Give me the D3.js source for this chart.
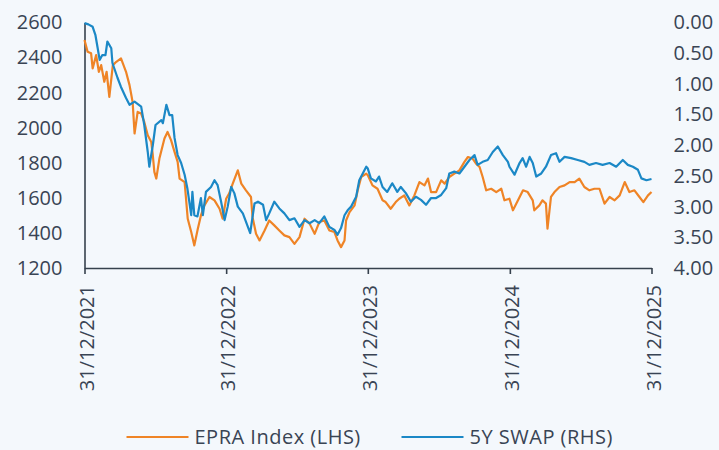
<!DOCTYPE html>
<html>
<head>
<meta charset="utf-8">
<script src="https://cdn.jsdelivr.net/npm/d3@7"></script>
<style>
  html, body { margin: 0; padding: 0; background: #f4f8fc; }
  svg { display: block; font-family: "Open Sans", "Noto Sans", sans-serif; }
</style>
</head>
<body>
<div id="chart"></div>
<script>
// EPRA Index (left axis)
const epra = [
  ["2021-12-31", 2500], ["2022-01-08", 2433], ["2022-01-17", 2424], ["2022-01-21", 2338],
  ["2022-01-30", 2414], ["2022-02-06", 2319], ["2022-02-12", 2357], ["2022-02-20", 2262],
  ["2022-02-26", 2319], ["2022-03-05", 2176], ["2022-03-14", 2357], ["2022-03-23", 2376],
  ["2022-04-04", 2395], ["2022-04-17", 2319], ["2022-04-26", 2243], ["2022-05-04", 2147],
  ["2022-05-09", 1967], ["2022-05-17", 2090], ["2022-05-26", 2081], ["2022-06-03", 2033],
  ["2022-06-12", 1957], ["2022-06-21", 1919], ["2022-06-25", 1843], ["2022-06-29", 1748],
  ["2022-07-04", 1710], ["2022-07-12", 1824], ["2022-07-25", 1938], ["2022-08-02", 1976],
  ["2022-08-11", 1929], ["2022-08-20", 1862], ["2022-08-28", 1805], ["2022-09-02", 1710],
  ["2022-09-15", 1690], ["2022-09-23", 1481], ["2022-10-02", 1405], ["2022-10-10", 1329],
  ["2022-10-19", 1424], ["2022-10-27", 1500], ["2022-11-05", 1557], ["2022-11-18", 1605],
  ["2022-12-01", 1586], ["2022-12-14", 1538], ["2022-12-22", 1481], ["2022-12-31", 1595],
  ["2023-01-08", 1626], ["2023-01-17", 1681], ["2023-01-30", 1757], ["2023-02-08", 1681],
  ["2023-02-20", 1643], ["2023-03-05", 1605], ["2023-03-09", 1490], ["2023-03-18", 1395],
  ["2023-03-27", 1357], ["2023-04-09", 1414], ["2023-04-21", 1471], ["2023-05-04", 1443],
  ["2023-05-17", 1414], ["2023-05-30", 1386], ["2023-06-12", 1376], ["2023-06-25", 1338],
  ["2023-07-08", 1376], ["2023-07-21", 1481], ["2023-08-03", 1453], ["2023-08-16", 1395],
  ["2023-08-28", 1462], ["2023-09-10", 1471], ["2023-09-23", 1414], ["2023-10-06", 1405],
  ["2023-10-14", 1357], ["2023-10-23", 1319], ["2023-11-01", 1357], ["2023-11-05", 1471],
  ["2023-11-14", 1519], ["2023-11-27", 1557], ["2023-12-05", 1643], ["2023-12-14", 1719],
  ["2023-12-27", 1738], ["2023-12-31", 1729], ["2024-01-12", 1671], ["2024-01-25", 1652],
  ["2024-02-07", 1586], ["2024-02-15", 1576], ["2024-02-28", 1538], ["2024-03-12", 1576],
  ["2024-03-21", 1595], ["2024-04-03", 1614], ["2024-04-16", 1557], ["2024-04-29", 1614],
  ["2024-05-12", 1690], ["2024-05-25", 1671], ["2024-06-03", 1710], ["2024-06-11", 1633],
  ["2024-06-24", 1633], ["2024-07-07", 1700], ["2024-07-16", 1681], ["2024-07-28", 1719],
  ["2024-08-10", 1738], ["2024-08-23", 1757], ["2024-09-05", 1805], ["2024-09-14", 1833],
  ["2024-09-26", 1824], ["2024-10-05", 1795], ["2024-10-14", 1776], ["2024-10-22", 1719],
  ["2024-10-31", 1643], ["2024-11-13", 1652], ["2024-11-26", 1633], ["2024-12-09", 1652],
  ["2024-12-17", 1586], ["2024-12-30", 1595], ["2025-01-08", 1529], ["2025-01-21", 1586],
  ["2025-02-03", 1643], ["2025-02-15", 1633], ["2025-02-28", 1586], ["2025-03-04", 1529],
  ["2025-03-17", 1557], ["2025-03-25", 1586], ["2025-04-03", 1567], ["2025-04-07", 1424],
  ["2025-04-16", 1605], ["2025-04-25", 1633], ["2025-05-08", 1662], ["2025-05-21", 1671],
  ["2025-06-03", 1690], ["2025-06-16", 1690], ["2025-06-28", 1710], ["2025-07-11", 1662],
  ["2025-07-24", 1643], ["2025-08-06", 1652], ["2025-08-19", 1652], ["2025-09-01", 1567],
  ["2025-09-14", 1605], ["2025-09-27", 1586], ["2025-10-10", 1614], ["2025-10-23", 1690],
  ["2025-11-04", 1633], ["2025-11-17", 1643], ["2025-11-30", 1605], ["2025-12-10", 1576],
  ["2025-12-22", 1614], ["2025-12-31", 1633]
];

// 5Y swap rate (right axis, inverted)
const swap = [
  ["2021-12-31", 0.01], ["2022-01-10", 0.03], ["2022-01-21", 0.07], ["2022-01-28", 0.20],
  ["2022-02-03", 0.42], ["2022-02-08", 0.61], ["2022-02-15", 0.53], ["2022-02-23", 0.53],
  ["2022-02-28", 0.31], ["2022-03-10", 0.42], ["2022-03-13", 0.66], ["2022-03-26", 0.90],
  ["2022-04-04", 1.05], ["2022-04-17", 1.23], ["2022-04-26", 1.34], ["2022-05-09", 1.29],
  ["2022-05-26", 1.37], ["2022-06-03", 1.67], ["2022-06-12", 2.11], ["2022-06-16", 2.35],
  ["2022-06-25", 2.00], ["2022-07-02", 1.67], ["2022-07-17", 1.59], ["2022-07-21", 1.64],
  ["2022-07-30", 1.34], ["2022-08-07", 1.51], ["2022-08-14", 1.51], ["2022-08-20", 1.88],
  ["2022-08-28", 2.16], ["2022-09-06", 2.29], ["2022-09-15", 2.48], ["2022-09-22", 2.70],
  ["2022-10-02", 3.14], ["2022-10-05", 2.76], ["2022-10-10", 3.14], ["2022-10-18", 3.16],
  ["2022-10-27", 2.86], ["2022-11-01", 3.14], ["2022-11-09", 2.76], ["2022-11-22", 2.68],
  ["2022-12-01", 2.57], ["2022-12-09", 2.65], ["2022-12-18", 2.92], ["2022-12-27", 3.22],
  ["2023-01-04", 3.00], ["2023-01-13", 2.68], ["2023-01-21", 2.78], ["2023-01-30", 3.00],
  ["2023-02-12", 3.11], ["2023-02-25", 3.33], ["2023-03-03", 3.43], ["2023-03-14", 2.95],
  ["2023-03-23", 2.92], ["2023-04-05", 2.97], ["2023-04-13", 3.22], ["2023-04-21", 3.11],
  ["2023-05-04", 2.92], ["2023-05-17", 3.03], ["2023-05-30", 3.11], ["2023-06-12", 3.22],
  ["2023-06-25", 3.19], ["2023-07-08", 3.33], ["2023-07-21", 3.22], ["2023-08-03", 3.27],
  ["2023-08-16", 3.22], ["2023-08-28", 3.27], ["2023-09-10", 3.16], ["2023-09-23", 3.33],
  ["2023-10-06", 3.38], ["2023-10-14", 3.46], ["2023-10-23", 3.35], ["2023-11-01", 3.14],
  ["2023-11-09", 3.06], ["2023-11-18", 3.00], ["2023-12-01", 2.84], ["2023-12-09", 2.57],
  ["2023-12-18", 2.46], ["2023-12-27", 2.35], ["2023-12-31", 2.38], ["2024-01-08", 2.54],
  ["2024-01-21", 2.59], ["2024-01-29", 2.51], ["2024-02-07", 2.68], ["2024-02-19", 2.76],
  ["2024-03-03", 2.62], ["2024-03-16", 2.76], ["2024-03-25", 2.68], ["2024-04-07", 2.78],
  ["2024-04-20", 2.92], ["2024-05-03", 2.84], ["2024-05-16", 2.89], ["2024-05-29", 2.97],
  ["2024-06-11", 2.86], ["2024-06-24", 2.86], ["2024-07-07", 2.81], ["2024-07-20", 2.70],
  ["2024-07-28", 2.46], ["2024-08-10", 2.43], ["2024-08-23", 2.46], ["2024-09-05", 2.35],
  ["2024-09-18", 2.24], ["2024-10-01", 2.16], ["2024-10-09", 2.32], ["2024-10-22", 2.27],
  ["2024-11-04", 2.24], ["2024-11-17", 2.11], ["2024-11-30", 2.02], ["2024-12-13", 2.16],
  ["2024-12-26", 2.27], ["2024-12-30", 2.35], ["2025-01-12", 2.48], ["2025-01-25", 2.29],
  ["2025-02-02", 2.21], ["2025-02-11", 2.35], ["2025-02-20", 2.19], ["2025-02-28", 2.29],
  ["2025-03-09", 2.51], ["2025-03-22", 2.46], ["2025-04-03", 2.35], ["2025-04-16", 2.16],
  ["2025-04-29", 2.13], ["2025-05-08", 2.27], ["2025-05-21", 2.19], ["2025-06-07", 2.21],
  ["2025-06-24", 2.24], ["2025-07-11", 2.27], ["2025-07-24", 2.32], ["2025-08-10", 2.29],
  ["2025-08-27", 2.32], ["2025-09-14", 2.29], ["2025-10-01", 2.35], ["2025-10-18", 2.24],
  ["2025-10-31", 2.32], ["2025-11-13", 2.35], ["2025-11-26", 2.40], ["2025-12-05", 2.54],
  ["2025-12-18", 2.57], ["2025-12-31", 2.55]
];

const leftTicks = [1200, 1400, 1600, 1800, 2000, 2200, 2400, 2600];
const rightTicks = [0, 0.5, 1, 1.5, 2, 2.5, 3, 3.5, 4];
const dateTicks = ["2021-12-31", "2022-12-31", "2023-12-31", "2024-12-31", "2025-12-31"];
const seriesNames = ["EPRA Index (LHS)", "5Y SWAP (RHS)"];

const width = 719, height = 450;
const textColor = "#394454";
const axisColor = "#36414d";
const orange = "#ef8426", blue = "#1b88c6";

const parse = d3.timeParse("%Y-%m-%d");

const svg = d3.select("#chart").append("svg")
    .attr("width", width)
    .attr("height", height);

const x = d3.scaleTime()
    .domain([parse(dateTicks[0]), parse(dateTicks[dateTicks.length - 1])])
    .range([84.5, 651.5]);
const yL = d3.scaleLinear().domain([1200, 2600]).range([268, 22.5]);
const yR = d3.scaleLinear().domain([0, 4]).range([22.5, 268]);

// left axis
const gL = svg.append("g")
    .attr("transform", "translate(84.5,0)")
    .call(d3.axisLeft(yL).tickValues(leftTicks).tickSize(0).tickPadding(22).tickFormat(d3.format("d")));

// right axis (labels only)
const gR = svg.append("g")
    .attr("transform", "translate(651.5,0)")
    .call(d3.axisRight(yR).tickValues(rightTicks).tickSize(0).tickPadding(22).tickFormat(d3.format(".2f")));
gR.select(".domain").remove();

// bottom axis
const gB = svg.append("g")
    .attr("transform", "translate(0,268)")
    .call(d3.axisBottom(x).tickValues(dateTicks.map(parse)).tickSizeInner(6).tickSizeOuter(0)
        .tickFormat(d3.timeFormat("%d/%m/%Y")));
gB.selectAll(".tick text")
    .attr("transform", "rotate(-90)")
    .attr("text-anchor", "end")
    .attr("x", -17)
    .attr("dx", 0);

[gL, gR, gB].forEach(g => {
    g.selectAll("text")
        .attr("fill", textColor)
        .style("font-size", "20px")
        .style("font-family", "'Open Sans', sans-serif");
    g.selectAll(".domain, line")
        .attr("stroke", axisColor)
        .attr("stroke-width", 1.6);
});
gB.selectAll(".tick text").attr("dy", "0.36em").attr("y", 1.5);

// lines
const lineL = d3.line().x(d => x(parse(d[0]))).y(d => yL(d[1]));
const lineR = d3.line().x(d => x(parse(d[0]))).y(d => yR(d[1]));

svg.append("path")
    .datum(epra)
    .attr("d", lineL)
    .attr("fill", "none")
    .attr("stroke", orange)
    .attr("stroke-width", 2.2)
    .attr("stroke-linejoin", "round");

svg.append("path")
    .datum(swap)
    .attr("d", lineR)
    .attr("fill", "none")
    .attr("stroke", blue)
    .attr("stroke-width", 2.2)
    .attr("stroke-linejoin", "round");

// legend
const legend = svg.append("g").attr("transform", "translate(0,437)");
const legendX = [126.5, 401.5];
const legendColors = [orange, blue];
seriesNames.forEach((name, i) => {
    legend.append("line")
        .attr("x1", legendX[i]).attr("x2", legendX[i] + 62)
        .attr("y1", 0).attr("y2", 0)
        .attr("stroke", legendColors[i])
        .attr("stroke-width", 2);
    legend.append("text")
        .attr("x", legendX[i] + 68)
        .attr("y", 0)
        .attr("dy", "0.36em")
        .attr("fill", textColor)
        .style("font-size", "20px")
        .style("letter-spacing", "0.5px")
        .text(name);
});
</script>
</body>
</html>
